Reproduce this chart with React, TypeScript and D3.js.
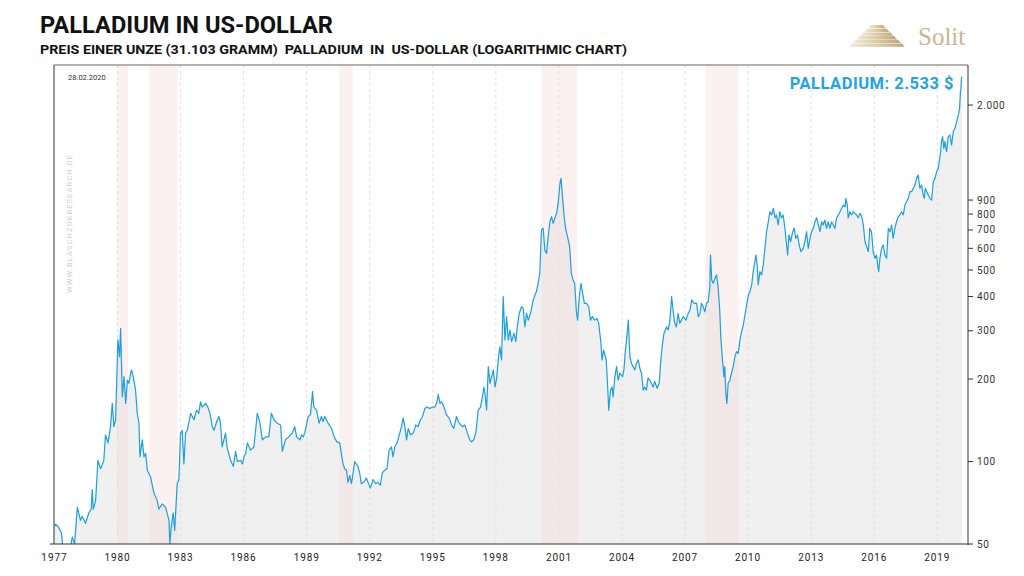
import React from "react";
import * as d3 from "d3";

// ---- data (decimal year, USD per ounce) ----
const palladium: [number, number][] = [
  [1977.0, 58], [1977.06, 59], [1977.17, 58], [1977.33, 55], [1977.4, 49], [1977.5, 46], [1977.62, 45], [1977.75, 48], [1977.85, 53], [1977.96, 50],
  [1978.09, 68], [1978.24, 61], [1978.32, 63], [1978.48, 59.5], [1978.64, 65], [1978.75, 67], [1978.8, 79], [1978.85, 67], [1978.96, 72],
  [1979.07, 101], [1979.2, 94], [1979.35, 101], [1979.43, 125], [1979.55, 117], [1979.67, 134], [1979.75, 163], [1979.83, 134], [1979.91, 142],
  [1980.02, 278], [1980.1, 241], [1980.15, 306], [1980.23, 172], [1980.31, 204], [1980.39, 163], [1980.47, 198], [1980.54, 193], [1980.66, 216], [1980.75, 204], [1980.86, 182], [1980.94, 150],
  [1981.02, 138], [1981.07, 104], [1981.18, 120], [1981.26, 104], [1981.34, 107], [1981.42, 93], [1981.57, 88], [1981.73, 77], [1981.89, 72], [1981.97, 67],
  [1982.13, 70], [1982.29, 68], [1982.45, 61], [1982.49, 50], [1982.56, 58], [1982.65, 65], [1982.72, 56], [1982.84, 83], [1982.92, 86],
  [1983.0, 127], [1983.08, 130], [1983.16, 98], [1983.24, 127], [1983.32, 130], [1983.48, 150], [1983.64, 142], [1983.76, 154], [1983.87, 150], [1983.95, 165],
  [1984.03, 158], [1984.19, 163], [1984.3, 158], [1984.4, 150], [1984.51, 134], [1984.59, 130], [1984.75, 142], [1984.83, 146], [1984.9, 138], [1984.98, 113],
  [1985.06, 120], [1985.14, 127], [1985.22, 112], [1985.38, 101], [1985.51, 96], [1985.62, 109], [1985.7, 100], [1985.86, 101], [1985.94, 98],
  [1986.02, 104], [1986.1, 107], [1986.18, 117], [1986.33, 110], [1986.49, 113], [1986.65, 150], [1986.78, 138], [1986.89, 120],
  [1987.05, 123], [1987.2, 123], [1987.32, 150], [1987.44, 142], [1987.6, 138], [1987.76, 136], [1987.84, 109], [1987.99, 120],
  [1988.15, 123], [1988.31, 127], [1988.43, 134], [1988.52, 123], [1988.68, 120], [1988.76, 125], [1988.84, 123], [1988.92, 128], [1988.99, 136],
  [1989.07, 146], [1989.18, 148], [1989.28, 180], [1989.34, 158], [1989.47, 154], [1989.59, 138], [1989.7, 146], [1989.78, 140], [1989.86, 146],
  [1990.02, 138], [1990.18, 132], [1990.33, 122], [1990.44, 118], [1990.57, 117], [1990.65, 107], [1990.73, 98], [1990.81, 94], [1990.89, 93], [1990.97, 84],
  [1991.05, 89], [1991.13, 83], [1991.21, 91], [1991.28, 100], [1991.36, 98], [1991.44, 96], [1991.52, 91], [1991.6, 83], [1991.71, 84], [1991.84, 87], [1991.97, 82],
  [1992.03, 80], [1992.16, 86], [1992.28, 83], [1992.39, 84], [1992.5, 82], [1992.6, 91], [1992.71, 93], [1992.82, 94], [1992.92, 110],
  [1993.03, 113], [1993.11, 104], [1993.19, 113], [1993.3, 117], [1993.43, 127], [1993.51, 134], [1993.59, 144], [1993.67, 134], [1993.75, 120], [1993.83, 132], [1993.94, 125],
  [1994.07, 127], [1994.19, 136], [1994.3, 134], [1994.41, 142], [1994.51, 146], [1994.62, 156], [1994.73, 158], [1994.86, 156], [1994.98, 158],
  [1995.1, 158], [1995.18, 163], [1995.26, 176], [1995.34, 163], [1995.42, 165], [1995.53, 158], [1995.65, 148], [1995.78, 144], [1995.89, 136],
  [1996.0, 132], [1996.13, 146], [1996.21, 140], [1996.32, 136], [1996.41, 134], [1996.52, 136], [1996.63, 128], [1996.76, 120], [1996.84, 118], [1996.95, 120],
  [1997.05, 128], [1997.16, 154], [1997.27, 158], [1997.36, 172], [1997.43, 187], [1997.49, 175], [1997.56, 154], [1997.64, 222], [1997.72, 193], [1997.8, 204], [1997.88, 216], [1997.96, 187],
  [1998.04, 202], [1998.12, 238], [1998.19, 262], [1998.27, 235], [1998.35, 400], [1998.43, 278], [1998.51, 338], [1998.59, 278], [1998.67, 302], [1998.75, 274], [1998.86, 294], [1998.95, 274],
  [1999.02, 310], [1999.11, 347], [1999.22, 367], [1999.3, 363], [1999.38, 310], [1999.46, 347], [1999.54, 328], [1999.65, 347], [1999.78, 389], [1999.86, 405], [1999.93, 417],
  [2000.01, 447], [2000.09, 486], [2000.17, 700], [2000.25, 710], [2000.33, 592], [2000.41, 575], [2000.49, 662], [2000.57, 750], [2000.65, 782], [2000.73, 740], [2000.81, 775], [2000.89, 805], [2000.97, 888],
  [2001.05, 1036], [2001.1, 1080], [2001.17, 926], [2001.25, 782], [2001.33, 700], [2001.41, 662], [2001.51, 608], [2001.59, 486], [2001.67, 460], [2001.75, 447], [2001.83, 352], [2001.89, 328], [2001.97, 400],
  [2002.05, 447], [2002.13, 411], [2002.21, 378], [2002.31, 378], [2002.42, 367], [2002.5, 328], [2002.59, 338], [2002.7, 328], [2002.81, 333], [2002.89, 320],
  [2003.0, 270], [2003.05, 235], [2003.13, 255], [2003.25, 235], [2003.32, 187], [2003.37, 154], [2003.45, 182], [2003.53, 187], [2003.58, 172], [2003.66, 204], [2003.74, 222], [2003.82, 198], [2003.9, 210],
  [2004.03, 204], [2004.09, 216], [2004.15, 248], [2004.22, 278], [2004.3, 328], [2004.38, 241], [2004.45, 228], [2004.53, 222], [2004.61, 216], [2004.69, 228], [2004.77, 235], [2004.85, 219], [2004.93, 210],
  [2005.01, 182], [2005.08, 187], [2005.16, 182], [2005.24, 202], [2005.32, 198], [2005.4, 193], [2005.48, 187], [2005.56, 196], [2005.67, 185], [2005.77, 193], [2005.85, 235], [2005.91, 262],
  [2006.0, 294], [2006.12, 310], [2006.2, 302], [2006.28, 328], [2006.36, 400], [2006.43, 357], [2006.51, 320], [2006.59, 310], [2006.67, 347], [2006.75, 320], [2006.83, 328], [2006.91, 338],
  [2007.04, 328], [2007.15, 347], [2007.23, 357], [2007.32, 389], [2007.42, 378], [2007.55, 378], [2007.63, 338], [2007.71, 347], [2007.78, 378], [2007.86, 367], [2007.94, 352],
  [2008.02, 378], [2008.1, 383], [2008.18, 435], [2008.21, 567], [2008.27, 460], [2008.34, 447], [2008.42, 466], [2008.5, 480], [2008.57, 435], [2008.65, 357], [2008.7, 285], [2008.78, 235], [2008.85, 204], [2008.89, 222], [2008.94, 177], [2008.99, 163],
  [2009.05, 193], [2009.13, 198], [2009.21, 210], [2009.29, 222], [2009.37, 241], [2009.45, 252], [2009.53, 248], [2009.61, 278], [2009.69, 298], [2009.77, 315], [2009.85, 343], [2009.93, 373],
  [2010.01, 405], [2010.09, 417], [2010.17, 441], [2010.24, 493], [2010.32, 536], [2010.37, 567], [2010.43, 522], [2010.48, 441], [2010.56, 493], [2010.64, 480], [2010.72, 522], [2010.8, 600], [2010.88, 690], [2010.96, 750],
  [2011.04, 816], [2011.12, 794], [2011.2, 840], [2011.28, 775], [2011.35, 794], [2011.43, 730], [2011.51, 816], [2011.59, 775], [2011.67, 794], [2011.75, 710], [2011.83, 617], [2011.88, 567], [2011.94, 671],
  [2012.02, 634], [2012.12, 690], [2012.19, 710], [2012.27, 652], [2012.35, 671], [2012.43, 617], [2012.51, 583], [2012.62, 600], [2012.7, 634], [2012.78, 690], [2012.86, 600], [2012.94, 652],
  [2013.02, 690], [2013.1, 710], [2013.18, 750], [2013.26, 775], [2013.34, 730], [2013.42, 690], [2013.5, 750], [2013.57, 730], [2013.65, 761], [2013.73, 710], [2013.81, 750], [2013.89, 710], [2013.97, 750],
  [2014.05, 730], [2014.13, 710], [2014.21, 775], [2014.29, 794], [2014.37, 816], [2014.45, 840], [2014.53, 863], [2014.61, 850], [2014.65, 913], [2014.72, 863], [2014.76, 775], [2014.84, 816], [2014.92, 794],
  [2015.0, 816], [2015.08, 805], [2015.16, 794], [2015.24, 775], [2015.32, 805], [2015.4, 785], [2015.48, 730], [2015.56, 634], [2015.64, 608], [2015.72, 583], [2015.79, 710], [2015.87, 690], [2015.95, 583],
  [2016.03, 552], [2016.11, 567], [2016.16, 522], [2016.21, 493], [2016.27, 552], [2016.35, 600], [2016.43, 617], [2016.51, 567], [2016.59, 552], [2016.67, 710], [2016.75, 690], [2016.83, 730], [2016.9, 652], [2016.98, 710],
  [2017.06, 750], [2017.14, 782], [2017.22, 794], [2017.3, 816], [2017.38, 794], [2017.46, 863], [2017.54, 888], [2017.62, 913], [2017.7, 966], [2017.78, 966], [2017.86, 994], [2017.94, 1021],
  [2018.01, 1080], [2018.09, 1111], [2018.17, 994], [2018.25, 1021], [2018.33, 939], [2018.38, 913], [2018.43, 994], [2018.49, 966], [2018.57, 939], [2018.65, 913], [2018.73, 900], [2018.81, 1050], [2018.89, 1080], [2018.97, 1143],
  [2019.05, 1175], [2019.09, 1243], [2019.16, 1351], [2019.2, 1470], [2019.25, 1533], [2019.31, 1390], [2019.36, 1470], [2019.44, 1351], [2019.52, 1533], [2019.6, 1555], [2019.68, 1430], [2019.76, 1600], [2019.84, 1645], [2019.92, 1739],
  [2020.0, 1840], [2020.06, 1945], [2020.1, 2237], [2020.12, 2270], [2020.14, 2450], [2020.16, 2533],
];

// recession periods (shaded bands), decimal years
const recessions: [number, number][] = [
  [1980.0, 1980.5],
  [1981.5, 1982.87],
  [1990.55, 1991.2],
  [2000.17, 2001.88],
  [2007.97, 2009.54],
];

const xTickYears = d3.range(1977, 2020, 3);
const yTickValues = [50, 100, 200, 300, 400, 500, 600, 700, 800, 900, 2000];

const titleText = "PALLADIUM IN US-DOLLAR";
const subtitleText = "PREIS EINER UNZE (31.103 GRAMM)  PALLADIUM  IN  US-DOLLAR (LOGARITHMIC CHART)";
const dateText = "28.02.2020";
const watermarkText = "WWW.BLASCHZOKRESEARCH.DE";
const seriesName = "PALLADIUM";

const W = 1024;
const H = 576;
const left = 54;
const right = 968;
const top = 65;
const bottom = 544;

const de = d3.formatLocale({ decimal: ",", thousands: ".", grouping: [3], currency: ["", " $"] });
const fmt = de.format(",d");

export default function App() {
  const x = d3.scaleLinear().domain([1976.98, 2020.46]).range([left, right]);
  const y = d3.scaleLog().domain([50, 2800]).range([bottom, top]);

  const area = d3
    .area<[number, number]>()
    .x((d) => x(d[0]))
    .y0(bottom)
    .y1((d) => y(d[1]));
  const line = d3
    .line<[number, number]>()
    .x((d) => x(d[0]))
    .y((d) => y(d[1]));

  const last = palladium[palladium.length - 1];
  const font = "Roboto, 'DejaVu Sans', sans-serif";

  const pyramidSteps = d3.range(6);

  return (
    <svg
      width={W}
      height={H}
      viewBox={`0 0 ${W} ${H}`}
      style={{ position: "absolute", left: 0, top: 0, background: "#fff" }}
    >
      <defs>
        <clipPath id="plotClip">
          <rect x={left} y={top} width={right - left} height={bottom - top} />
        </clipPath>
        <linearGradient id="pyr" x1="0" x2="1" y1="0" y2="0">
          <stop offset="0" stopColor="#f1e8d6" />
          <stop offset="0.5" stopColor="#dccaa5" />
          <stop offset="1" stopColor="#bba57b" />
        </linearGradient>
      </defs>

      {/* title */}
      <text x={40} y={33} fontFamily={font} fontWeight={700} fontSize={23} fill="#111" textLength={293} lengthAdjust="spacingAndGlyphs">
        {titleText}
      </text>
      <text x={40} y={54} fontFamily={font} fontWeight={700} fontSize={13} fill="#111" textLength={587} lengthAdjust="spacingAndGlyphs" style={{ whiteSpace: "pre" }}>
        {subtitleText}
      </text>

      {/* logo */}
      <g>
        {pyramidSteps.map((i) => {
          const hw = 6 + i * 3.8;
          const yy = 25 + i * 3.7;
          return (
            <polygon
              key={i}
              points={`${877 - hw},${yy} ${877 + hw},${yy} ${877 + hw + 2.5},${yy + 3.3} ${877 - hw - 2.5},${yy + 3.3}`}
              fill="url(#pyr)"
            />
          );
        })}
        <text x={918} y={45} fontFamily="'Liberation Serif', 'DejaVu Serif', serif" fontSize={25} fill="#c9b690">
          Solit
        </text>
      </g>

      {/* plot */}
      <g clipPath="url(#plotClip)">
        <path d={area(palladium) || ""} fill="#f0f0f0" />
        {recessions.map(([a, b], i) => (
          <rect key={i} x={x(a)} y={top} width={x(b) - x(a)} height={bottom - top} fill="#f7d8d8" opacity={0.35} />
        ))}
        {xTickYears.slice(1).map((yr) => (
          <line key={yr} x1={x(yr)} x2={x(yr)} y1={top} y2={bottom} stroke="#e6dede" strokeDasharray="3,3" strokeWidth={1} />
        ))}
        <path d={line(palladium) || ""} fill="none" stroke="#1b9fe0" strokeWidth={1.2} strokeLinejoin="round" />
      </g>

      {/* frame */}
      <line x1={left} x2={right} y1={top} y2={top} stroke="#666" strokeWidth={1} />
      <line x1={left} x2={left} y1={top} y2={bottom} stroke="#333" strokeWidth={1} />
      <line x1={right} x2={right} y1={top} y2={bottom + 1} stroke="#333" strokeWidth={1} />
      <line x1={50} x2={right} y1={bottom} y2={bottom} stroke="#333" strokeWidth={1.2} />

      {/* y axis */}
      {yTickValues.map((v) => (
        <g key={v} transform={`translate(${right},${y(v)})`}>
          <line x1={0} x2={5} stroke="#333" />
          <text x={9} dy="0.35em" fontFamily={font} fontSize={10} fill="#333" letterSpacing={0.6}>
            {fmt(v)}
          </text>
        </g>
      ))}

      {/* x axis labels */}
      {xTickYears.map((yr) => (
        <text key={yr} x={x(yr)} y={561} textAnchor="middle" fontFamily={font} fontSize={10} fill="#222" letterSpacing={0.9}>
          {yr}
        </text>
      ))}

      {/* annotations */}
      <text x={68} y={80} fontFamily={font} fontSize={7.5} fill="#333">
        {dateText}
      </text>
      <text
        x={0}
        y={0}
        transform={`translate(72,224) rotate(-90)`}
        textAnchor="middle"
        fontFamily={font}
        fontSize={7.5}
        fill="#cfcfcf"
        textLength={138}
        lengthAdjust="spacing"
      >
        {watermarkText}
      </text>
      <text x={954} y={89} textAnchor="end" fontFamily={font} fontWeight={700} fontSize={16.5} fill="#1fa3e4" letterSpacing={0.5}>
        {`${seriesName}: ${fmt(last[1])} $`}
      </text>
    </svg>
  );
}
